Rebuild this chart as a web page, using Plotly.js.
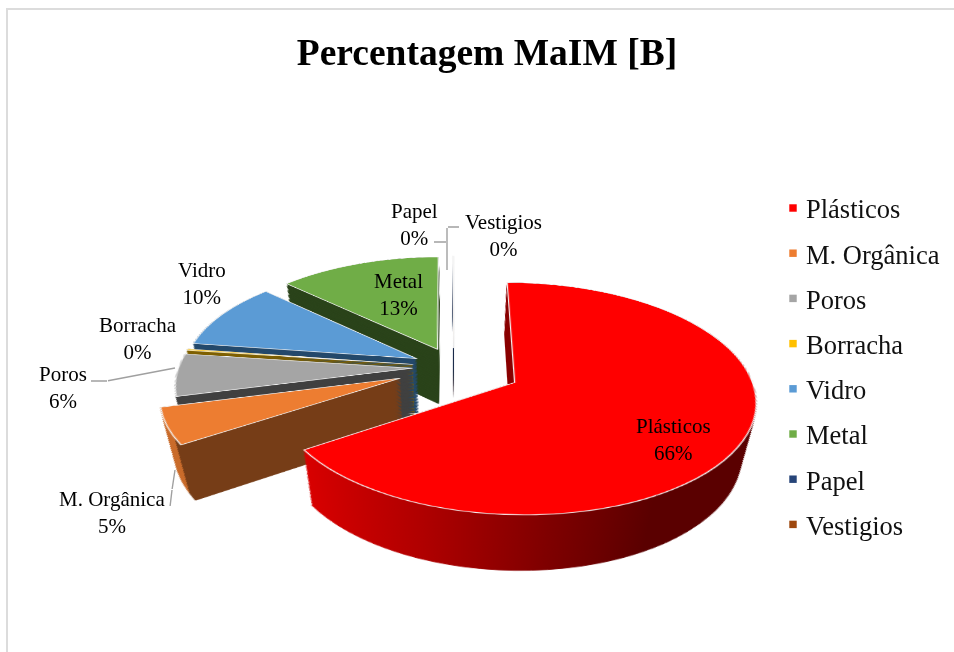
<!DOCTYPE html>
<html><head><meta charset="utf-8">
<script src="https://cdn.plot.ly/plotly-3.0.1.min.js"></script>
<style>
html,body{margin:0;padding:0;background:#fff;width:954px;height:652px;overflow:hidden}
#frame{position:absolute;left:6px;top:8px;width:948px;height:644px;border-left:2px solid #dcdcdc;border-top:2px solid #dcdcdc;box-sizing:border-box}
#chart{position:absolute;left:0;top:0;width:954px;height:652px}
#chart .main-svg:first-of-type{overflow:visible;transform-origin:477px 276px;
 transform:translate(-23px,91px) perspective(1500px) rotateX(62deg) scale(1.09)}
</style></head><body>
<div id="frame"></div><div id="chart"></div>
<script>
const categories=['Plásticos','M. Orgânica','Poros','Borracha','Vidro','Metal','Papel','Vestigios'];
const values=[65.8,5.2,6.1,0.2,9.7,12.9,0.05,0.05];
const pulls=[0.29,0.25,0.18,0.18,0.18,0.18,0.18,0.18];
const topColors=['#FF0000','#ED7D31','#A5A5A5','#FFC000','#5B9BD5','#70AD47','#264478','#9E480E'];
const sideColors=['#800000','#763D17','#404040','#7F6000','#24496B','#2A431A','#16284A','#5A2A08'];
const sideStroke=[1,1,1,1,1,1,0,0];
const backToFront=[7,6,5,4,3,2,1,0];
const labelNames=['Plásticos<br>66%','M. Orgânica<br>5%','Poros<br>6%','Borracha<br>0%','Vidro<br>10%','Metal<br>13%','Papel<br>0%','Vestigios<br>0%'];
const W=954,H=652,LAYERS=40,DEPTH=0.153,SHRINK=0.11;

const base={type:'pie',labels:categories,values:values,pull:pulls,sort:false,direction:'clockwise',rotation:0,
  textinfo:'none',hoverinfo:'skip'};
const traces=[];
const topMid=(DEPTH+1)/2, topHalf=(1-DEPTH)/2;
backToFront.forEach(g=>{
  for(let k=0;k<LAYERS;k++){
    const t=1-k/(LAYERS-1), d=DEPTH*t, half=topHalf*(1-SHRINK*t);
    traces.push(Object.assign({},base,{
      showlegend:false,
      domain:{x:[0,1],y:[topMid-d-half,topMid-d+half]},
      marker:{colors:categories.map((_,i)=>i===g?sideColors[i]:'rgba(0,0,0,0)'),
              line:{width:categories.map((_,i)=>i===g?sideStroke[i]:0),color:categories.map((_,i)=>i===g?sideColors[i]:'rgba(0,0,0,0)')}}
    }));
  }
});
traces.push(Object.assign({},base,{showlegend:true,domain:{x:[0,1],y:[DEPTH,1]},
  marker:{colors:topColors,line:{width:1.2,color:'#f4f4f4'}}}));

function seg(x0,y0,x1,y1){return {xref:'paper',yref:'paper',x:x1/W,y:1-y1/H,ax:x0-x1,ay:y0-y1,axref:'pixel',ayref:'pixel',
  text:' ',font:{size:1},width:1,height:1,borderpad:0,showarrow:true,arrowhead:0,arrowwidth:1.4,arrowcolor:'#a0a0a0'};}
function lab(t,x,y){return {xref:'paper',yref:'paper',x:x/W,y:1-y/H,xanchor:'center',yanchor:'middle',text:t,showarrow:false,
  font:{family:'Liberation Serif',size:21,color:'#000'}};}
const annotations=[
 lab(labelNames[0],673,439),lab(labelNames[1],112,512),lab(labelNames[2],63,387),lab(labelNames[3],138,338),
 lab(labelNames[4],202,284),lab(labelNames[5],398,295),lab(labelNames[6],414,224),lab(labelNames[7],503,235),
 seg(90,381,107,381),seg(107,381,175,368),seg(170,507,172,490),seg(172,490,175,470),
 seg(433,242,446,242),seg(447,227,447,270),seg(447,227,459,227)
];
const layout={width:W,height:H,margin:{l:0,r:0,t:0,b:0},paper_bgcolor:'rgba(0,0,0,0)',
 title:{text:'<b>Percentagem MaIM [B]</b>',x:487/W,xanchor:'center',y:1-52/H,yanchor:'middle',
        font:{family:'Liberation Serif',size:37.5,color:'#000'}},
 showlegend:true,
 legend:{x:766/W,xanchor:'left',y:1-192/H,yanchor:'top',font:{family:'Liberation Serif',size:26.5,color:'#111'},bgcolor:'rgba(0,0,0,0)'},
 annotations:annotations};

Plotly.newPlot('chart',traces,layout,{displayModeBar:false,staticPlot:true}).then(()=>{
  const svg=document.querySelector('#chart .main-svg');
  const NS='http://www.w3.org/2000/svg';
  const defs=svg.querySelector('defs')||svg.insertBefore(document.createElementNS(NS,'defs'),svg.firstChild);
  function grad(id,stops){const g=document.createElementNS(NS,'linearGradient');g.id=id;g.setAttribute('x1','0');g.setAttribute('x2','1');g.setAttribute('y1','0');g.setAttribute('y2','0');
    stops.forEach(s=>{const e=document.createElementNS(NS,'stop');e.setAttribute('offset',s[0]);e.setAttribute('stop-color',s[1]);g.appendChild(e);});defs.appendChild(g);}
  grad('sidePlastic',[[0,'#D80000'],[0.25,'#B00000'],[0.5,'#800000'],[0.72,'#5A0000'],[1,'#5A0000']]);
  grad('sideOrganic',[[0,'#C96B2A'],[0.1,'#C96B2A'],[0.1,'#763D17'],[1,'#763D17']]);
  const tr=[...document.querySelectorAll('#chart .pielayer .trace')];
  const idx={0:'sidePlastic',1:'sideOrganic'};
  backToFront.forEach((g,gi)=>{
    if(!(g in idx))return;
    for(let k=0;k<LAYERS;k++){
      const s=tr[gi*LAYERS+k].querySelectorAll('.slice path.surface')[g];
      if(s){s.style.fill='url(#'+idx[g]+')';s.style.stroke='url(#'+idx[g]+')';}
    }
  });
  const sb=document.querySelector('#chart .legend .scrollbox');
  if(sb)sb.removeAttribute('clip-path');
  document.querySelectorAll('#chart .legend .traces').forEach((t,i)=>{
    t.setAttribute('transform','translate(0,'+(16+i*45.2)+')');
    const p=t.querySelector('.legendpie');
    if(p){p.setAttribute('transform','translate(27,0) scale(0.62)');p.style.strokeWidth='0';}
  });
});
</script></body></html>
